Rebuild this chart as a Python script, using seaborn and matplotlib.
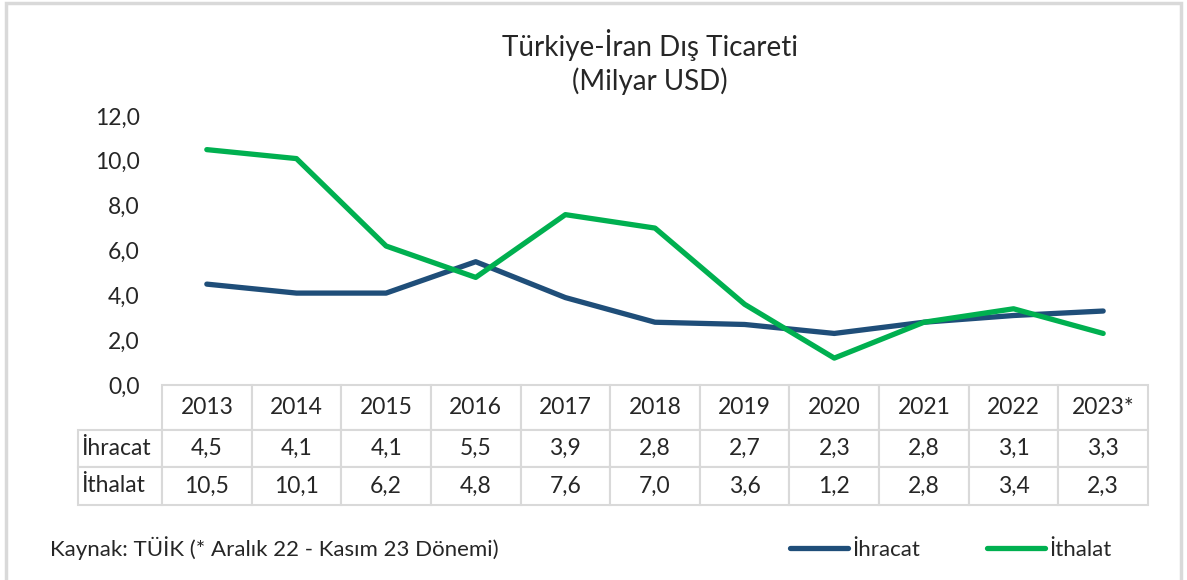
import matplotlib
matplotlib.use('Agg')
import matplotlib.pyplot as plt
from matplotlib.patches import Rectangle
from matplotlib.lines import Line2D
import seaborn as sns
import pandas as pd

# Data
years = ['2013', '2014', '2015', '2016', '2017', '2018', '2019', '2020', '2021', '2022', '2023*']
ihracat = [4.5, 4.1, 4.1, 5.5, 3.9, 2.8, 2.7, 2.3, 2.8, 3.1, 3.3]
ithalat = [10.5, 10.1, 6.2, 4.8, 7.6, 7.0, 3.6, 1.2, 2.8, 3.4, 2.3]
series_names = ['İhracat', 'İthalat']
colors = ['#1F4E79', '#00B050']

df = pd.DataFrame({'pos': list(range(len(years))) * 2,
                   'value': ihracat + ithalat,
                   'series': [series_names[0]] * len(years) + [series_names[1]] * len(years)})

sns.set_style('white')
plt.rcParams['font.family'] = ['Lato', 'DejaVu Sans']
txt = '#262626'
grid_c = '#d9d9d9'
fs = 16.5

W, H = 1187, 580
fig = plt.figure(figsize=(W / 100, H / 100), dpi=100)
ax = fig.add_axes([162 / W, 1 - 385 / H, 986 / W, 269 / H])

sns.lineplot(data=df, x='pos', y='value', hue='series', palette=colors,
             linewidth=3.8, ax=ax, legend=False, solid_capstyle='round')

ax.set_xlim(-0.5, len(years) - 0.5)
ax.set_ylim(0, 12)
ax.set_yticks(range(0, 13, 2))
ax.set_yticklabels([f'{v:.1f}'.replace('.', ',') for v in range(0, 13, 2)],
                   fontsize=fs, color=txt)
ax.tick_params(axis='y', length=0, pad=16)
ax.set_xticks([])
ax.set_xlabel('')
ax.set_ylabel('')
for s in ax.spines.values():
    s.set_visible(False)

# Data table under the axis
cell_text = [[''] + years,
             [series_names[0]] + [f'{v:.1f}'.replace('.', ',') for v in ihracat],
             [series_names[1]] + [f'{v:.1f}'.replace('.', ',') for v in ithalat]]
tbl = ax.table(cellText=cell_text, cellLoc='center',
               bbox=[-84 / 986, -120 / 269, 1 + 84 / 986, 120 / 269])
tbl.auto_set_font_size(False)
row_h = [45, 37, 38]
for (r, c), cell in tbl.get_celld().items():
    cell.set_edgecolor(grid_c)
    cell.set_linewidth(1.5)
    cell.set_width(84 if c == 0 else 89.6)
    cell.set_height(row_h[r])
    cell.get_text().set_fontsize(fs)
    cell.get_text().set_color(txt)
    if c == 0:
        cell.get_text().set_ha('left')
        cell._loc = 'left'
        cell.PAD = 0.04
    if r == 0 and c == 0:
        cell.visible_edges = ''

fig.text(650 / W, 1 - 45 / H, 'Türkiye-İran Dış Ticareti', ha='center', va='center',
         fontsize=20, color=txt)
fig.text(650 / W, 1 - 81 / H, '(Milyar USD)', ha='center', va='center',
         fontsize=20, color=txt)
fig.text(50 / W, 1 - 548 / H, 'Kaynak: TÜİK (* Aralık 22 - Kasım 23 Dönemi)',
         ha='left', va='center', fontsize=16, color=txt)

handles = [Line2D([], [], color=c, lw=3.8, solid_capstyle='round') for c in colors]
fig.legend(handles, series_names, loc='center left', bbox_to_anchor=(770 / W, 1 - 550 / H),
           ncol=2, frameon=False, fontsize=16, handlelength=2.6, handletextpad=0.2,
           columnspacing=3.0, labelcolor=txt)

fig.patches.append(Rectangle((6 / W, -0.1), 1175 / W, 1.1 - 3 / H, transform=fig.transFigure,
                             fill=False, edgecolor=grid_c, linewidth=2.5))

fig.savefig('out.png', dpi=100, facecolor='white')
